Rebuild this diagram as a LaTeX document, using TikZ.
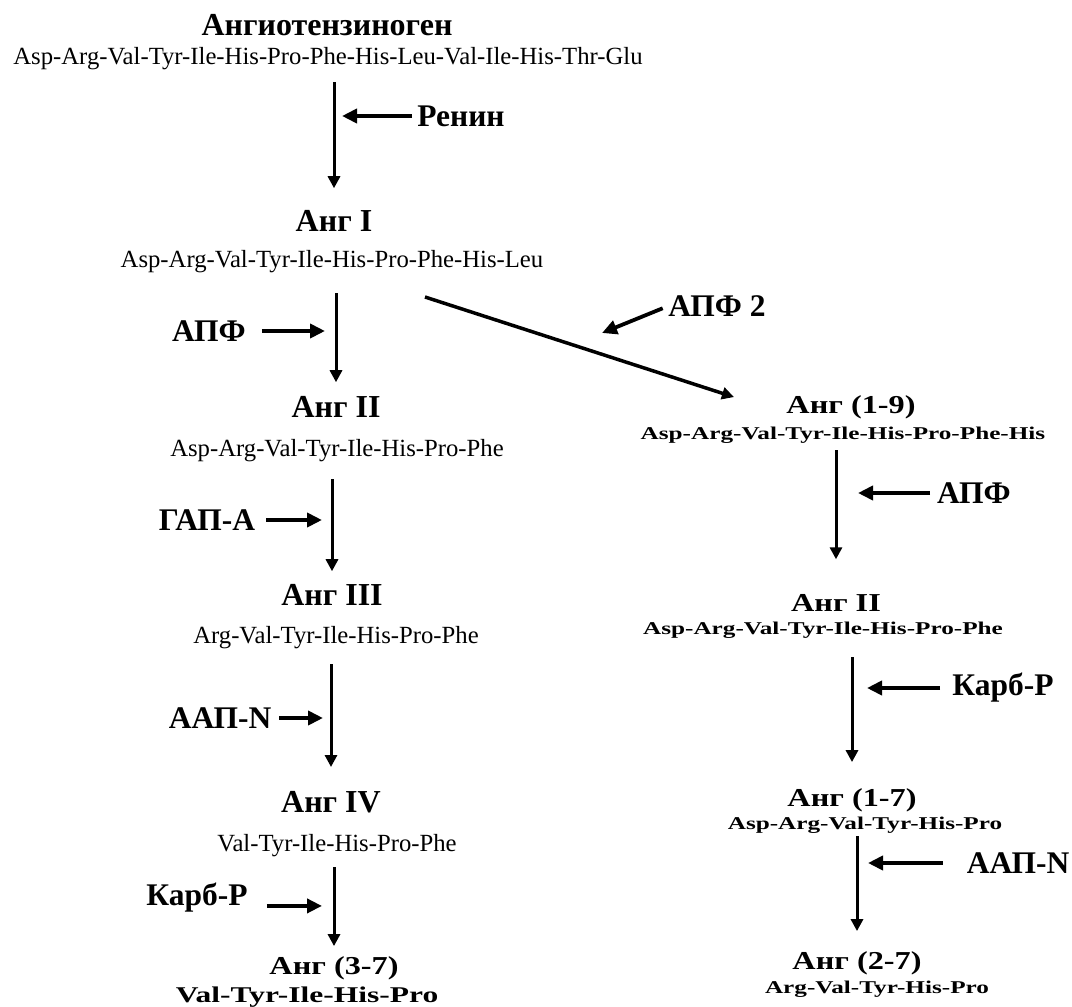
\documentclass[tikz,border=0pt]{standalone}
\usepackage{fontspec}
\setmainfont{Liberation Serif}
\newfontfamily\widefont[FakeStretch=1.25]{Liberation Serif}
\newfontfamily\widerfont[FakeStretch=1.4]{Liberation Serif}
\usetikzlibrary{arrows.meta}
\tikzset{
  ttl/.style={font={\fontsize{32}{34}\selectfont\bfseries}, inner sep=0pt},
  aa/.style={font={\fontsize{24.7}{27}\selectfont}, inner sep=0pt},
  wttl/.style={font={\widefont\fontsize{25.8}{28}\selectfont\bfseries}, inner sep=0pt},
  waa/.style={font={\widerfont\fontsize{18}{20}\selectfont\bfseries}, inner sep=0pt},
  enz/.style={font={\fontsize{31.5}{34}\selectfont\bfseries}, inner sep=0pt},
  flow/.style={-{Triangle[length=12pt,width=12pt]}, line width=3pt},
  enzarr/.style={-{Triangle[length=15pt,width=14pt]}, line width=3.8pt},
}
\begin{document}
\begin{tikzpicture}[x=1pt,y=-1pt]
    \useasboundingbox (0,0) rectangle (1072,1007);
    \node[ttl] (agt) at (327,25) {Ангиотензиноген};
    \node[aa] (s0) at (328,59) {Asp-Arg-Val-Tyr-Ile-His-Pro-Phe-His-Leu-Val-Ile-His-Thr-Glu};
    \node[ttl] (a1) at (334,221) {Анг I};
    \node[aa] (s1) at (332,262) {Asp-Arg-Val-Tyr-Ile-His-Pro-Phe-His-Leu};
    \node[ttl] (a2) at (336,407) {Анг II};
    \node[aa] (s2) at (337,451) {Asp-Arg-Val-Tyr-Ile-His-Pro-Phe};
    \node[ttl] (a3) at (332,595) {Анг III};
    \node[aa] (s3) at (336,638) {Arg-Val-Tyr-Ile-His-Pro-Phe};
    \node[ttl] (a4) at (331,802) {Анг IV};
    \node[aa] (s4) at (337,846) {Val-Tyr-Ile-His-Pro-Phe};
    \node[wttl] (a37) at (334,968) {Анг (3-7)};
    \node[waa,font={\widerfont\fontsize{22.5}{24}\selectfont\bfseries}] (s37) at (307,997) {Val-Tyr-Ile-His-Pro};

    \node[wttl] (a19) at (851,407) {Анг (1-9)};
    \node[waa] (s19) at (843,435) {Asp-Arg-Val-Tyr-Ile-His-Pro-Phe-His};
    \node[wttl] (a2r) at (836,603) {Анг II};
    \node[waa] (s2r) at (823,630) {Asp-Arg-Val-Tyr-Ile-His-Pro-Phe};
    \node[wttl] (a17) at (852,800) {Анг (1-7)};
    \node[waa] (s17) at (865,825) {Asp-Arg-Val-Tyr-His-Pro};
    \node[wttl] (a27) at (857,963) {Анг (2-7)};
    \node[waa] (s27) at (877,989) {Arg-Val-Tyr-His-Pro};

    \node[enz] (ren) at (461,116) {Ренин};
    \node[enz] (e1) at (209,331) {АПФ};
    \node[enz] (e2) at (207,520) {ГАП-А};
    \node[enz] (e3) at (220,718) {ААП-N};
    \node[enz] (e4) at (197,898) {Карб-Р};
    \node[enz] (e5) at (717,306) {АПФ 2};
    \node[enz] (e6) at (974,493) {АПФ};
    \node[enz] (e7) at (1003,688) {Карб-Р};
    \node[enz] (e8) at (1018,863) {ААП-N};
    \coordinate (d0) at (425,297);
    \coordinate (t5) at (602,333);

    \draw[flow,shorten <=12pt,shorten >=22pt] (s0.south -| a1.north) -- (a1.north);
    \draw[flow,shorten <=20pt,shorten >=14pt] (s1.south -| a2.north) -- (a2.north);
    \draw[flow,shorten <=17pt,shorten >=13pt] (s2.south -| a3.north) -- (a3.north);
    \draw[flow,shorten <=15pt,shorten >=24pt] (s3.south -| a4.north) -- (a4.north);
    \draw[flow,shorten <=10pt,shorten >=10pt] (s4.south -| a37.north) -- (a37.north);
    \draw[flow,shorten <=7pt,shorten >=35pt] (s19.south -| a2r.north) -- (a2r.north);
    \draw[flow,shorten <=19pt,shorten >=26pt] (s2r.south -| a17.north) -- (a17.north);
    \draw[flow,shorten <=3pt,shorten >=20pt] (s17.south -| a27.north) -- (a27.north);
    \draw[flow,line width=3.5pt,shorten >=55pt] (d0) -- ([yshift=-7pt]a19.west);

    \draw[enzarr,shorten <=5pt,shorten >=8pt] (ren.west) -- (ren.west -| a1.north);
    \draw[enzarr,shorten <=16pt,shorten >=11pt] (e1.east) -- (e1.east -| a2.north);
    \draw[enzarr,shorten <=11pt,shorten >=10pt] (e2.east) -- (e2.east -| a3.north);
    \draw[enzarr,shorten <=8pt,shorten >=8pt] (e3.east) -- (e3.east -| a4.north);
    \draw[enzarr,shorten <=19pt,shorten >=12pt] (e4.base east) -- (e4.base east -| a37.north);
    \draw[enzarr,shorten <=6pt] (e5.west) -- (t5);
    \draw[enzarr,shorten <=7pt,shorten >=22pt] (e6.west) -- (e6.west -| a2r.north);
    \draw[enzarr,shorten <=12pt,shorten >=15pt] (e7.west) -- (e7.west -| a17.north);
    \draw[enzarr,shorten <=24pt,shorten >=11pt] (e8.west) -- (e8.west -| a27.north);
\end{tikzpicture}
\end{document}
